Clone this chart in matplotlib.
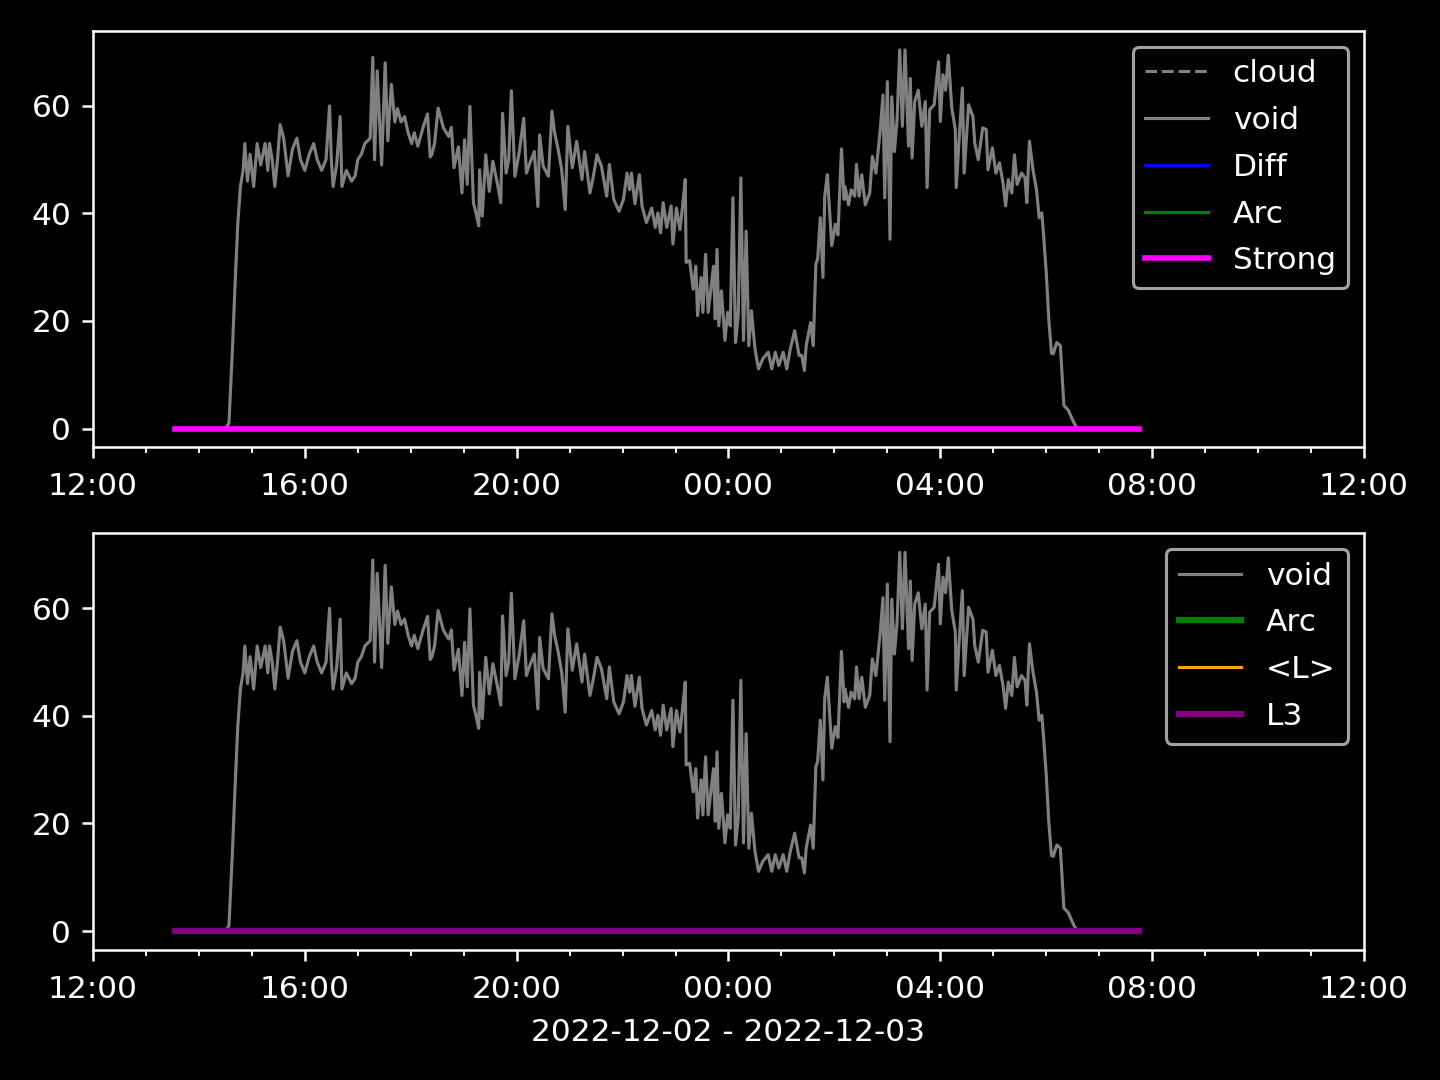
import matplotlib
matplotlib.use("Agg")
import matplotlib.pyplot as plt
import matplotlib.dates as mdates
import pandas as pd

# zeitpunkte (HH:MM), alles vor 12:00 gehoert zum naechsten tag
void_times = [
    "13:33", "14:30", "14:34", "14:38", "14:41", "14:44", "14:47", "14:50", "14:52", "14:55",
    "14:58", "15:02", "15:06", "15:10", "15:15", "15:18", "15:20", "15:23", "15:26", "15:29",
    "15:32", "15:36", "15:41", "15:46", "15:51", "15:55", "16:00", "16:05", "16:10", "16:14",
    "16:19", "16:24", "16:28", "16:30", "16:32", "16:36", "16:40", "16:42", "16:47", "16:53",
    "16:57", "17:00", "17:04", "17:08", "17:14", "17:17", "17:19", "17:22", "17:27", "17:31",
    "17:34", "17:38", "17:42", "17:45", "17:49", "17:53", "17:57", "18:01", "18:04", "18:08",
    "18:14", "18:19", "18:22", "18:24", "18:27", "18:31", "18:37", "18:43", "18:46", "18:49",
    "18:54", "18:58", "19:01", "19:04", "19:07", "19:11", "19:14", "19:17", "19:18", "19:21",
    "19:25", "19:29", "19:33", "19:38", "19:42", "19:44", "19:48", "19:51", "19:54", "19:58",
    "20:03", "20:08", "20:11", "20:15", "20:20", "20:24", "20:26", "20:30", "20:36", "20:40",
    "20:43", "20:47", "20:51", "20:55", "20:58", "21:03", "21:08", "21:14", "21:17", "21:23",
    "21:27", "21:31", "21:36", "21:42", "21:45", "21:50", "21:56", "22:01", "22:05", "22:08",
    "22:10", "22:14", "22:19", "22:22", "22:27", "22:33", "22:37", "22:40", "22:43", "22:46",
    "22:50", "22:55", "22:57", "23:01", "23:05", "23:08", "23:11", "23:12", "23:16", "23:20",
    "23:23", "23:25", "23:29", "23:31", "23:34", "23:37", "23:40", "23:43", "23:45", "23:47",
    "23:49", "23:52", "23:56", "23:59", "00:02", "00:05", "00:08", "00:11", "00:14", "00:17",
    "00:20", "00:23", "00:26", "00:30", "00:34", "00:39", "00:45", "00:49", "00:53", "00:57",
    "01:02", "01:06", "01:10", "01:15", "01:20", "01:23", "01:26", "01:28", "01:33", "01:36",
    "01:39", "01:41", "01:44", "01:47", "01:49", "01:52", "01:57", "02:01", "02:04", "02:08",
    "02:11", "02:12", "02:16", "02:19", "02:23", "02:25", "02:28", "02:31", "02:35", "02:40",
    "02:43", "02:47", "02:52", "02:55", "02:57", "03:00", "03:03", "03:05", "03:08", "03:11",
    "03:14", "03:17", "03:20", "03:24", "03:26", "03:28", "03:31", "03:35", "03:39", "03:43",
    "03:45", "03:48", "03:53", "03:56", "03:58", "04:00", "04:03", "04:06", "04:09", "04:13",
    "04:17", "04:18", "04:22", "04:25", "04:27", "04:32", "04:37", "04:39", "04:43", "04:48",
    "04:52", "04:54", "04:59", "05:03", "05:07", "05:11", "05:14", "05:17", "05:21", "05:24",
    "05:27", "05:32", "05:36", "05:38", "05:41", "05:45", "05:49", "05:52", "05:55", "05:57",
    "06:00", "06:03", "06:06", "06:08", "06:10", "06:12", "06:16", "06:18", "06:20", "06:25",
    "06:31", "06:34", "06:37", "07:45",
]
void_vals = [
    0, 0, 1, 15, 27, 38, 45, 48, 53, 46,
    51, 45, 53, 49, 53, 48, 53, 50, 45, 50,
    56.5, 54, 47, 52, 54, 50, 48, 51, 53, 50,
    48, 50, 60, 50, 45, 49, 58, 45, 48, 46,
    47, 50, 51, 53, 54, 69, 50, 66.5, 49, 68,
    53.5, 64, 57, 59.5, 57, 58, 55, 53, 55, 52.5,
    56, 58.5, 50.5, 51, 53, 59.6, 55.9, 54.3, 56, 48.5,
    52.4, 43.8, 53.7, 45.4, 59.9, 42, 40, 37.7, 48.1, 39.5,
    50.9, 44.1, 49.7, 45.7, 42, 58.6, 47.5, 50, 62.8, 46.9,
    51.5, 57.7, 47.5, 49.4, 51.5, 41.3, 54.6, 48.8, 46.9, 59,
    55, 51.9, 48.1, 40.7, 56.2, 48.5, 53.4, 46.3, 51.5, 43.8,
    47, 50.9, 48.8, 43.2, 49.1, 42.6, 40.4, 42.6, 47.5, 44.4,
    47.5, 41.8, 47.2, 41.4, 38.3, 41, 37.4, 40.1, 36.4, 42,
    37.4, 41.4, 34.3, 41, 37, 41.4, 46.3, 30.9, 31.2, 25.9,
    30.2, 21, 28.1, 21.6, 32.4, 21.6, 25.9, 30.2, 20.4, 33.3,
    19.1, 25.6, 16.4, 21.6, 19.1, 42.9, 16, 21, 46.6, 16.4,
    36.7, 15.4, 21.9, 14.8, 11.1, 13, 14.2, 11.1, 14.2, 11.7,
    14.2, 11.1, 14.8, 18.2, 13.6, 13.6, 10.8, 15.4, 19.7, 15.4,
    30.6, 31.5, 39.2, 28.1, 43.2, 47.2, 34, 38, 36, 52,
    42.6, 45, 41.6, 44.4, 43.2, 49.1, 43.2, 47.2, 41.6, 43.8,
    50.6, 47.5, 55.6, 62, 42.9, 64.5, 35.2, 61.7, 51.5, 57.4,
    70.4, 56.2, 70.4, 52.5, 65.1, 50.3, 60.8, 62.9, 56.2, 60.8,
    44.8, 59.3, 60.2, 65.1, 68.2, 57.1, 65.8, 62.9, 69.4, 59.6,
    55.6, 44.8, 55.6, 63.3, 47.5, 60.2, 58, 53.1, 50, 55.9,
    55.6, 48.1, 52.2, 47.5, 49.4, 45.7, 41.4, 46.3, 43.8, 50.9,
    45.4, 47.5, 46.6, 42, 53.4, 48.1, 44.4, 39.2, 40.1, 36,
    29, 20, 14, 13.9, 15, 16, 15.4, 10, 4.3, 3.4,
    1.2, 0.3, 0, 0,
]

# flache serien (alle null) ueber den gleichen zeitraum
flat_times = ["13:33", "07:45"]
cloud_vals = [0, 0]
diff_vals = [0, 0]
arc_vals = [0, 0]
strong_vals = [0, 0]
l_vals = [0, 0]
l3_vals = [0, 0]


def to_dt(times):
    out = []
    for t in times:
        day = "2022-12-03" if int(t[:2]) < 12 else "2022-12-02"
        out.append(pd.Timestamp(day + " " + t))
    return out


tv = to_dt(void_times)
tf = to_dt(flat_times)

plt.style.use("dark_background")
fig, (ax1, ax2) = plt.subplots(2, 1, figsize=(6.4, 4.8), dpi=225)
fig.subplots_adjust(left=0.0646, right=0.9472, top=0.9713, bottom=0.1204, hspace=0.2065)

ax1.plot(tf, cloud_vals, color="gray", ls="--", lw=1, label="cloud")
ax1.plot(tv, void_vals, color="gray", lw=1, label="void")
ax1.plot(tf, diff_vals, color="blue", lw=1, label="Diff")
ax1.plot(tf, arc_vals, color="green", lw=1, label="Arc")
ax1.plot(tf, strong_vals, color="magenta", lw=1.8, label="Strong")
ax1.legend(loc="upper right", labelspacing=0.57)

ax2.plot(tv, void_vals, color="gray", lw=1, label="void")
ax2.plot(tf, arc_vals, color="green", lw=2, label="Arc")
ax2.plot(tf, l_vals, color="orange", lw=1, label="<L>")
ax2.plot(tf, l3_vals, color="purple", lw=2, label="L3")
ax2.legend(loc="upper right", labelspacing=0.57)
ax2.set_xlabel("2022-12-02 - 2022-12-03", labelpad=4.6)

for ax in (ax1, ax2):
    ax.set_xlim(pd.Timestamp("2022-12-02 12:00"), pd.Timestamp("2022-12-03 12:00"))
    ax.xaxis.set_major_locator(mdates.HourLocator(byhour=range(0, 24, 4)))
    ax.xaxis.set_minor_locator(mdates.HourLocator())
    ax.xaxis.set_major_formatter(mdates.DateFormatter("%H:%M"))
    ax.tick_params(axis="x", which="major", pad=4.5)
    ax.set_yticks([0, 20, 40, 60])

plt.savefig("out.png")
